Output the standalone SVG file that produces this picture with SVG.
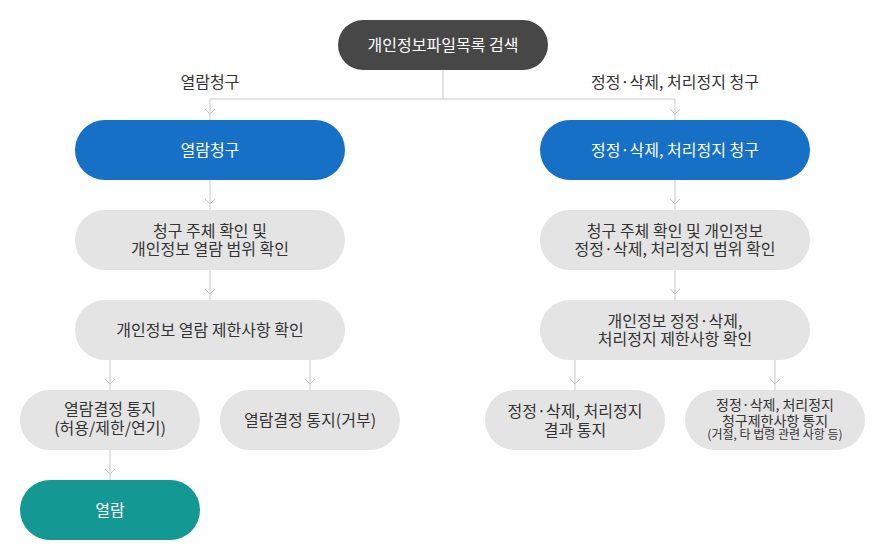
<svg xmlns="http://www.w3.org/2000/svg" width="885" height="560" viewBox="0 0 885 560">
<style>
text{font-family:"Noto Sans CJK KR","Noto Sans",sans-serif;font-size:16px;text-anchor:middle;fill:#333}
.w{fill:#fff}
.dark{fill:#474747}
.blue{fill:#1670c6}
.gray{fill:#e4e4e4}
.teal{fill:#149893}
.c{fill:none;stroke:#c8c8c8;stroke-width:1;marker-mid:url(#ch)}
.s{font-size:14px}
.xs{font-size:12px}
</style>
<defs>
<marker id="ch" viewBox="0 0 7 12" refX="6" refY="6" markerWidth="7" markerHeight="12" markerUnits="userSpaceOnUse" orient="auto">
<path d="M1,1 L6,6 L1,11" fill="none" stroke="#c8c8c8" stroke-width="1"/>
</marker>
</defs>
<rect width="885" height="560" fill="#fff"/>
<g id="connectors">
<path fill="none" stroke="#c8c8c8" d="M443,70 V99 M210,99 H675"/>
<path class="c" d="M210,99 V114 V120"/>
<path class="c" d="M675,99 V114 V120"/>
<path class="c" d="M210,180 V204 V210"/>
<path class="c" d="M675,180 V204 V210"/>
<path class="c" d="M210,270 V294 V300"/>
<path class="c" d="M675,270 V294 V300"/>
<path class="c" d="M110,360 V384 V390"/>
<path class="c" d="M310,360 V384 V390"/>
<path class="c" d="M575,360 V384 V390"/>
<path class="c" d="M775,360 V384 V390"/>
<path class="c" d="M110,450 V474 V480"/>
</g>
<g id="label-left"><text x="210" y="88">열람청구</text></g>
<g id="label-right"><text x="675" y="88">정정·삭제, 처리정지 청구</text></g>
<g id="n-search">
<rect class="dark" x="338" y="20" width="210" height="50" rx="25"/>
<text class="w" x="443" y="50.5">개인정보파일목록 검색</text>
</g>
<g id="n-req-l">
<rect class="blue" x="75" y="120" width="270" height="60" rx="30"/>
<text class="w" x="210" y="155.5">열람청구</text>
</g>
<g id="n-req-r">
<rect class="blue" x="540" y="120" width="270" height="60" rx="30"/>
<text class="w" x="675" y="155.5">정정·삭제, 처리정지 청구</text>
</g>
<g id="n-check-l">
<rect class="gray" x="75" y="210" width="270" height="60" rx="30"/>
<text x="210" y="237">청구 주체 확인 및</text>
<text x="210" y="255">개인정보 열람 범위 확인</text>
</g>
<g id="n-check-r">
<rect class="gray" x="540" y="210" width="270" height="60" rx="30"/>
<text x="675" y="237">청구 주체 확인 및 개인정보</text>
<text x="675" y="255">정정·삭제, 처리정지 범위 확인</text>
</g>
<g id="n-limit-l">
<rect class="gray" x="75" y="300" width="270" height="60" rx="30"/>
<text x="210" y="335.5">개인정보 열람 제한사항 확인</text>
</g>
<g id="n-limit-r">
<rect class="gray" x="540" y="300" width="270" height="60" rx="30"/>
<text x="675" y="327">개인정보 정정·삭제,</text>
<text x="675" y="345">처리정지 제한사항 확인</text>
</g>
<g id="n-notice-ok">
<rect class="gray" x="20" y="390" width="180" height="60" rx="30"/>
<text x="110" y="415">열람결정 통지</text>
<text x="110" y="434">(허용/제한/연기)</text>
</g>
<g id="n-notice-no">
<rect class="gray" x="220" y="390" width="180" height="60" rx="30"/>
<text x="310" y="425.5">열람결정 통지(거부)</text>
</g>
<g id="n-result">
<rect class="gray" x="485" y="390" width="180" height="60" rx="30"/>
<text x="575" y="417">정정·삭제, 처리정지</text>
<text x="575" y="436">결과 통지</text>
</g>
<g id="n-limit-notice">
<rect class="gray" x="685" y="390" width="180" height="60" rx="30"/>
<text class="s" x="775" y="410">정정·삭제, 처리정지</text>
<text class="s" x="775" y="425.5">청구제한사항 통지</text>
<text class="xs" x="775" y="439">(거절, 타 법령 관련 사항 등)</text>
</g>
<g id="n-view">
<rect class="teal" x="20" y="480" width="180" height="60" rx="30"/>
<text class="w" x="110" y="515.5">열람</text>
</g>
</svg>
